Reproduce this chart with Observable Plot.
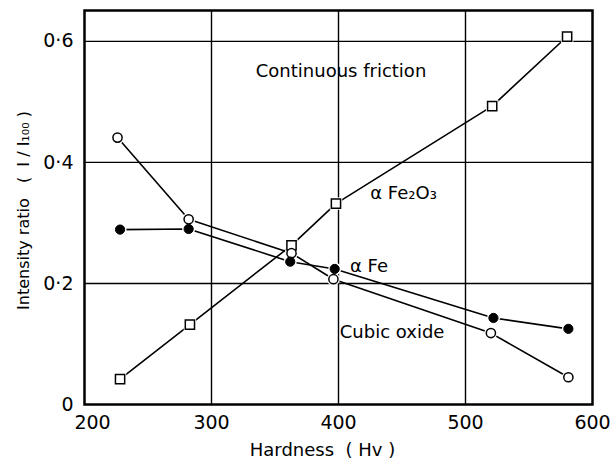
<!DOCTYPE html>
<html>
<head>
<meta charset="utf-8">
<script src="https://cdn.jsdelivr.net/npm/d3@7"></script>
<script src="https://cdn.jsdelivr.net/npm/@observablehq/plot@0.6"></script>
<style>
  html, body { margin: 0; padding: 0; background: #fff; }
  #chart svg { display: block; }
</style>
</head>
<body>
<div id="chart"></div>
<script>
// Data
const fe2o3X = [228, 283, 363, 398, 521, 580];
const fe2o3Y = [0.042, 0.132, 0.263, 0.332, 0.493, 0.608];
const cubicX = [226, 282, 363, 396, 520, 581];
const cubicY = [0.441, 0.306, 0.250, 0.207, 0.118, 0.045];
const feX = [228, 282, 362, 397, 522, 581];
const feY = [0.289, 0.290, 0.236, 0.224, 0.143, 0.125];

const xTicksFirst = [200];
const xTicksRest = [300, 400, 500, 600];
const yTicks = [0, 0.2, 0.4, 0.6];
const yTickLabels = ["0", "0·2", "0·4", "0·6"];
const xGrid = [300, 400, 500];
const yGrid = [0.2, 0.4, 0.6];

const titleNote = [{x: 402, y: 0.55, text: "Continuous friction"}];
const seriesNotes = [
  {x: 425, y: 0.349, text: "α Fe₂O₃"},
  {x: 409, y: 0.228, text: "α Fe"},
  {x: 401, y: 0.119, text: "Cubic oxide"}
];

const toRows = (xs, ys) => xs.map((x, i) => ({x, y: ys[i]}));
const fe2o3 = toRows(fe2o3X, fe2o3Y);
const cubic = toRows(cubicX, cubicY);
const fe = toRows(feX, feY);

const font = "'DejaVu Sans', Verdana, sans-serif";

const chart = Plot.plot({
  width: 615,
  height: 465,
  marginLeft: 84,
  marginRight: 23,
  marginTop: 10,
  marginBottom: 61,
  style: {fontFamily: font, fontSize: "18px", color: "#000", background: "#fff"},
  x: {domain: [200, 600]},
  y: {domain: [0, 0.651]},
  marks: [
    Plot.ruleX(xGrid, {stroke: "#000", strokeWidth: 1.4}),
    Plot.ruleY(yGrid, {stroke: "#000", strokeWidth: 1.4}),
    Plot.frame({stroke: "#000", strokeWidth: 2.5}),
    Plot.axisX({ticks: xTicksFirst, tickSize: 0, tickPadding: 11, label: null, fontSize: 19, dx: 8}),
    Plot.axisX({ticks: xTicksRest, tickSize: 0, tickPadding: 11, label: null, fontSize: 19}),
    Plot.axisY({ticks: yTicks, tickSize: 0, tickPadding: 11, label: null, fontSize: 19,
      tickFormat: d => yTickLabels[yTicks.indexOf(d)]}),
    Plot.line(fe2o3, {x: "x", y: "y", stroke: "#000", strokeWidth: 1.6}),
    Plot.line(cubic, {x: "x", y: "y", stroke: "#000", strokeWidth: 1.6}),
    Plot.line(fe, {x: "x", y: "y", stroke: "#000", strokeWidth: 1.6}),
    // white halos to create gaps at markers
    Plot.dot(fe2o3, {x: "x", y: "y", symbol: "square", r: 7, fill: "#fff", stroke: "none"}),
    Plot.dot(cubic, {x: "x", y: "y", r: 6.5, fill: "#fff", stroke: "none"}),
    Plot.dot(fe, {x: "x", y: "y", r: 6.5, fill: "#fff", stroke: "none"}),
    Plot.dot(fe2o3, {x: "x", y: "y", symbol: "square", r: 5.2, fill: "#fff", stroke: "#000", strokeWidth: 1.5}),
    Plot.dot(cubic, {x: "x", y: "y", r: 4.6, fill: "#fff", stroke: "#000", strokeWidth: 1.5}),
    Plot.dot(fe, {x: "x", y: "y", r: 4.6, fill: "#000", stroke: "#000", strokeWidth: 1}),
    Plot.text(titleNote, {x: "x", y: "y", text: "text", textAnchor: "middle", fontSize: 18, fill: "#000"}),
    Plot.text(seriesNotes, {x: "x", y: "y", text: "text", textAnchor: "start", fontSize: 18, fill: "#000"}),
    Plot.text(["Intensity ratio   (  I / I₁₀₀ )"], {frameAnchor: "left", textAnchor: "middle", rotate: -90, dx: -61, dy: 3, fontSize: 16, fill: "#000"}),
    Plot.text(["Hardness  ( Hv )"], {frameAnchor: "bottom", textAnchor: "middle", dx: -16, dy: 51, fontSize: 18, fill: "#000"})
  ]
});
document.getElementById("chart").appendChild(chart);
</script>
</body>
</html>
